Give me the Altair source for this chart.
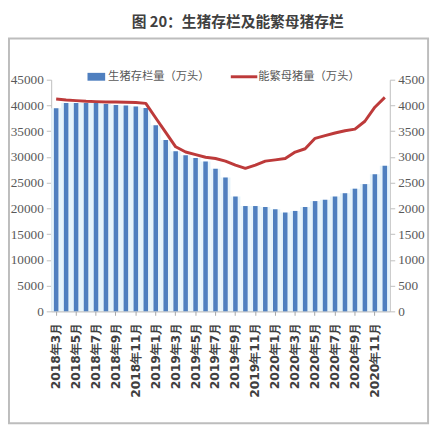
import altair as alt
import pandas as pd

months = [
    "2018年3月", "2018年4月", "2018年5月", "2018年6月", "2018年7月", "2018年8月",
    "2018年9月", "2018年10月", "2018年11月", "2018年12月",
    "2019年1月", "2019年2月", "2019年3月", "2019年4月", "2019年5月", "2019年6月",
    "2019年7月", "2019年8月", "2019年9月", "2019年10月", "2019年11月", "2019年12月",
    "2020年1月", "2020年2月", "2020年3月", "2020年4月", "2020年5月", "2020年6月",
    "2020年7月", "2020年8月", "2020年9月", "2020年10月", "2020年11月", "2020年12月",
]
hogs = [39470, 40490, 40490, 40490, 40490, 40300, 40110, 39980, 39790, 39530,
        36170, 33310, 31080, 30320, 29810, 29100, 27700, 25990, 22310, 20460,
        20460, 20270, 19830, 19200, 19510, 20270, 21420, 21680, 22310, 22950,
        23830, 24720, 26630, 28290]
sows = [4125, 4106, 4094, 4081, 4075, 4069, 4069, 4062, 4056, 4040,
        3757, 3477, 3197, 3095, 3045, 2994, 2969, 2918, 2841, 2778,
        2841, 2918, 2943, 2969, 3095, 3159, 3362, 3413, 3464, 3509,
        3540, 3693, 3966, 4157]
series_names = ["生猪存栏量（万头）", "能繁母猪量（万头）"]
title_text = "图 20：生猪存栏及能繁母猪存栏"
left_ticks = list(range(0, 45001, 5000))
right_ticks = list(range(0, 4501, 500))

BLUE = "#4f7fbf"
RED = "#bd3a3a"
GRAY_TXT = "#595959"

df = pd.DataFrame({"month": months, "hogs": hogs, "sows": sows})
one = pd.DataFrame({"k": [0]})

W, H = 345, 236

x_enc = alt.X(
    "month:N", sort=months,
    scale=alt.Scale(paddingInner=0, paddingOuter=0),
    axis=alt.Axis(values=months[::2], labelAngle=270, labelFont="DejaVu Sans",
                  labelFontWeight="bold", labelFontSize=12.5, labelColor="#404040",
                  tickSize=4, tickColor="#a6a6a6", domainColor="#a6a6a6",
                  labelPadding=7, title=None, labelOverlap=False),
)

y_left = alt.Y(
    "hogs:Q", scale=alt.Scale(domain=[0, 45000], nice=False),
    axis=alt.Axis(values=left_ticks, orient="left", grid=False, title=None,
                  labelFont="Liberation Sans Narrow", labelFontSize=13.5,
                  labelColor=GRAY_TXT, tickSize=5, tickColor="#bfbfbf",
                  domainColor="#bfbfbf", labelPadding=3, format="d"),
)
y_right = alt.Y(
    "sows:Q", scale=alt.Scale(domain=[0, 4500], nice=False),
    axis=alt.Axis(values=right_ticks, orient="right", grid=False, title=None,
                  labelFont="Liberation Sans Narrow", labelFontSize=13.5,
                  labelColor=GRAY_TXT, tickSize=5, tickColor="#bfbfbf",
                  domainColor="#bfbfbf", labelPadding=3, format="d"),
)

glow = alt.Chart(df).mark_bar(width=alt.RelativeBandSize(1.0), color="#e6f4fb").encode(
    x=x_enc, y=y_left)
bars = alt.Chart(df).mark_bar(width=4.6, color=BLUE).encode(x=x_enc, y=y_left)
left = alt.layer(glow, bars)

line = alt.Chart(df).mark_line(color=RED, strokeWidth=3, strokeJoin="round").encode(
    x=x_enc, y=y_right)

frame = alt.Chart(one).mark_rect(fillOpacity=0, stroke="#bdbdbd", strokeWidth=2).encode(
    x=alt.value(-43), x2=alt.value(384), y=alt.value(-42), y2=alt.value(350))

title = alt.Chart(one).mark_text(
    text=title_text, font="Noto Sans CJK SC", fontWeight="bold", fontSize=15,
    color="#404040", align="center", baseline="middle").encode(
    x=alt.value(190), y=alt.value(-59))

leg_rect = alt.Chart(one).mark_rect(color=BLUE).encode(
    x=alt.value(37), x2=alt.value(55), y=alt.value(-7), y2=alt.value(1))
leg_text1 = alt.Chart(one).mark_text(
    text=series_names[0], font="Noto Sans CJK SC", fontSize=11.5, color=GRAY_TXT,
    align="left", baseline="middle").encode(x=alt.value(58), y=alt.value(-3))
leg_line = alt.Chart(one).mark_rule(color=RED, strokeWidth=3).encode(
    x=alt.value(183), x2=alt.value(210), y=alt.value(-3))
leg_text2 = alt.Chart(one).mark_text(
    text=series_names[1], font="Noto Sans CJK SC", fontSize=11.5, color=GRAY_TXT,
    align="left", baseline="middle").encode(x=alt.value(211), y=alt.value(-3))

chart = alt.layer(
    frame, title, left, line, leg_rect, leg_text1, leg_line, leg_text2
).resolve_scale(y="independent").properties(
    width=W, height=H,
    autosize=alt.AutoSizeParams(type="none"),
    padding={"left": 44, "top": 69, "right": 43, "bottom": 127},
).configure_view(stroke=None)

chart.save("out.html", embed_options={"renderer": "svg", "actions": False})
